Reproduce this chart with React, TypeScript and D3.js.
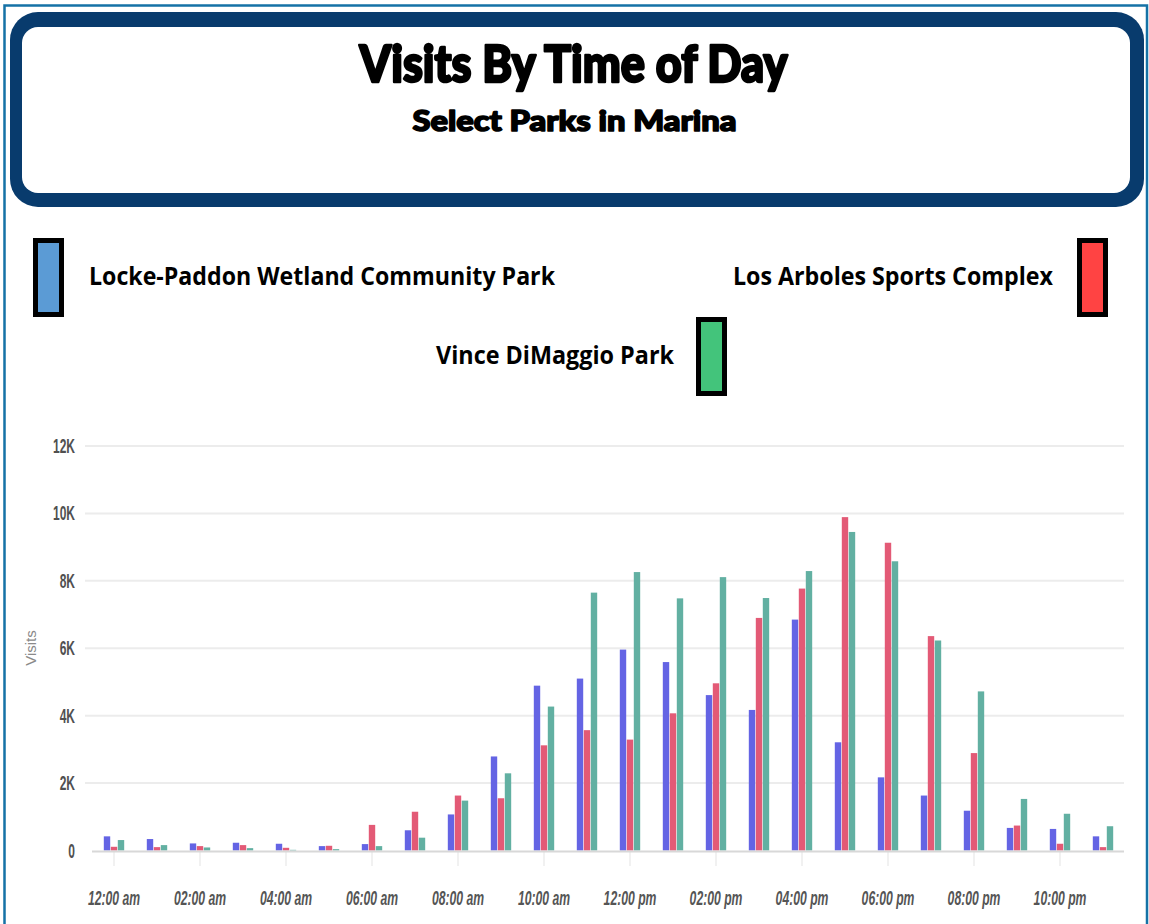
import React from "react";
import * as d3 from "d3";

const hours = [
  "12:00 am", "01:00 am", "02:00 am", "03:00 am", "04:00 am", "05:00 am",
  "06:00 am", "07:00 am", "08:00 am", "09:00 am", "10:00 am", "11:00 am",
  "12:00 pm", "01:00 pm", "02:00 pm", "03:00 pm", "04:00 pm", "05:00 pm",
  "06:00 pm", "07:00 pm", "08:00 pm", "09:00 pm", "10:00 pm", "11:00 pm",
];
const seriesNames = [
  "Locke-Paddon Wetland Community Park",
  "Los Arboles Sports Complex",
  "Vince DiMaggio Park",
];
const lockePaddon = [420, 340, 210, 230, 200, 130, 190, 600, 1070, 2790, 4890, 5100, 5960, 5590, 4610, 4170, 6850, 3210, 2170, 1630, 1180, 670, 640, 420];
const losArboles = [110, 100, 130, 160, 80, 140, 760, 1150, 1630, 1550, 3120, 3570, 3290, 4070, 4960, 6900, 7770, 9890, 9130, 6360, 2890, 740, 200, 100];
const vinceDiMaggio = [310, 160, 90, 70, 20, 40, 130, 380, 1480, 2290, 4270, 7650, 8260, 7480, 8110, 7490, 8290, 9450, 8580, 6230, 4720, 1530, 1090, 720];
const yTicks = [0, 2000, 4000, 6000, 8000, 10000, 12000];
const yTickLabels = ["0", "2K", "4K", "6K", "8K", "10K", "12K"];

const barColors = ["#6464e4", "#e35a76", "#62b0a2"];
const legendColors = ["#5b9bd5", "#ff4343", "#43c47b"];

export default function App() {
  const seriesData = [lockePaddon, losArboles, vinceDiMaggio];
  const x = d3
    .scaleBand<string>()
    .domain(hours)
    .range([92.5, 1124.5])
    .paddingInner(0.512)
    .paddingOuter(0.256);
  const xSub = d3
    .scaleBand<number>()
    .domain([0, 1, 2])
    .range([0, x.bandwidth()])
    .padding(0);
  const y = d3.scaleLinear().domain([0, 12000]).range([850.5, 446]);

  const evenHours = hours.filter((_, i) => i % 2 === 0);

  return (
    <div style={{ position: "absolute", left: 0, top: 0, background: "#fff" }}>
      <svg width={1149} height={924} style={{ display: "block" }}>
        <rect x={0} y={0} width={1149} height={924} fill="#fff" />
        {/* outer thin frame */}
        <rect x={4.5} y={5.5} width={1142.5} height={940} fill="none" stroke="#1572a6" strokeWidth={2.5} />
        {/* title box */}
        <rect x={10} y={12} width={1134} height={195} rx={28} ry={28} fill="#083b6d" />
        <rect x={22} y={27} width={1108} height={166} rx={16} ry={16} fill="#fff" />
        <text
          x={573.5}
          y={82}
          textAnchor="middle"
          fontFamily="Lato, 'Open Sans', sans-serif"
          fontWeight={900}
          fontSize={52}
          textLength={428}
          lengthAdjust="spacingAndGlyphs"
          fill="#000"
          stroke="#000"
          strokeWidth={2.6}
          strokeLinejoin="round"
        >
          Visits By Time of Day
        </text>
        <text
          x={574.5}
          y={131}
          textAnchor="middle"
          fontFamily="Lato, 'Open Sans', sans-serif"
          fontWeight={900}
          fontSize={29}
          textLength={324}
          lengthAdjust="spacingAndGlyphs"
          fill="#000"
          stroke="#000"
          strokeWidth={1.6}
          strokeLinejoin="round"
        >
          Select Parks in Marina
        </text>

        {/* legend */}
        <g>
          <rect x={35.5} y={240.5} width={26} height={74} fill={legendColors[0]} stroke="#000" strokeWidth={5} />
          <text x={89} y={285} fontFamily="'Open Sans', 'Liberation Sans', sans-serif" fontWeight={700} fontSize={25}
            textLength={466} lengthAdjust="spacingAndGlyphs" fill="#000">
            {seriesNames[0]}
          </text>
          <rect x={1079.5} y={240.5} width={26} height={74} fill={legendColors[1]} stroke="#000" strokeWidth={5} />
          <text x={733} y={285} fontFamily="'Open Sans', 'Liberation Sans', sans-serif" fontWeight={700} fontSize={25}
            textLength={320} lengthAdjust="spacingAndGlyphs" fill="#000">
            {seriesNames[1]}
          </text>
          <rect x={698.5} y={319.5} width={26} height={74} fill={legendColors[2]} stroke="#000" strokeWidth={5} />
          <text x={436} y={364} fontFamily="'Open Sans', 'Liberation Sans', sans-serif" fontWeight={700} fontSize={25}
            textLength={238} lengthAdjust="spacingAndGlyphs" fill="#000">
            {seriesNames[2]}
          </text>
        </g>

        {/* gridlines */}
        {yTicks.map((t, i) =>
          t === 0 ? null : (
            <line key={"g" + i} x1={85} x2={1124} y1={y(t)} y2={y(t)} stroke="#ececec" strokeWidth={2} />
          )
        )}
        {/* y tick labels */}
        {yTicks.map((t, i) => (
          <text
            key={"yl" + i}
            transform={`translate(75,${y(t) + 7}) scale(0.6,1)`}
            textAnchor="end"
            fontFamily="'Liberation Sans', Arial, sans-serif"
            fontWeight={700}
            fontSize={20}
            fill="#505050"
          >
            {yTickLabels[i]}
          </text>
        ))}
        {/* y axis title */}
        <text
          transform={`translate(36,648) rotate(-90)`}
          textAnchor="middle"
          fontFamily="'Liberation Sans', Arial, sans-serif"
          fontSize={15}
          fill="#8a8a8a"
        >
          Visits
        </text>

        {/* x ticks */}
        {evenHours.map((h) => {
          const cx = (x(h) as number) + x.bandwidth() / 2;
          return (
            <g key={"xt" + h}>
              <line x1={cx} x2={cx} y1={851} y2={866} stroke="#e3e3e3" strokeWidth={1} />
              <text
                transform={`translate(${cx},905) scale(0.58,1)`}
                textAnchor="middle"
                fontFamily="'Liberation Sans', Arial, sans-serif"
                fontStyle="italic"
                fontWeight={700}
                fontSize={21}
                fill="#555"
              >
                {h}
              </text>
            </g>
          );
        })}

        {/* bars */}
        {hours.map((h, i) => (
          <g key={"b" + h} transform={`translate(${x(h)},0)`}>
            {seriesData.map((s, k) => (
              <rect
                key={k}
                x={(xSub(k) as number) + 0.3}
                y={y(s[i])}
                width={xSub.bandwidth() - 0.6}
                height={y(0) - y(s[i])}
                fill={barColors[k]}
              />
            ))}
          </g>
        ))}
        {/* zero line */}
        <line x1={92} x2={1124} y1={851.5} y2={851.5} stroke="#d8d8d8" strokeWidth={2} />
      </svg>
    </div>
  );
}
